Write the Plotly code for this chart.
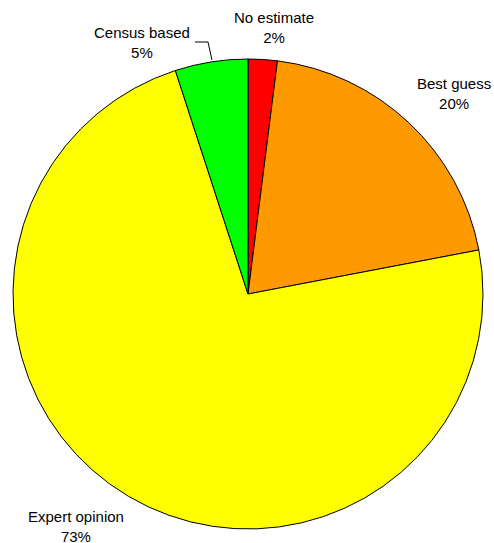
import plotly.graph_objects as go

# Share of estimates by method
categories = ["No estimate", "Best guess", "Expert opinion", "Census based"]
shares = [2, 20, 73, 5]
colors = ["#FF0000", "#FF9900", "#FFFF00", "#00FF00"]

W, H = 494, 543
FONT = dict(family="Liberation Sans, Arial, sans-serif", size=15, color="black")


def px_x(x):
    return x / W


def px_y(y):
    return 1 - y / H


fig = go.Figure(
    go.Pie(
        labels=categories,
        values=shares,
        sort=False,
        direction="clockwise",
        rotation=0,
        marker=dict(colors=colors, line=dict(color="black", width=1)),
        textinfo="none",
        hoverinfo="label+percent",
        showlegend=False,
        domain=dict(x=[px_x(13), px_x(483)], y=[px_y(529), px_y(59)]),
    )
)

# Label placement (pixel centres of each text block)
label_pos = {
    "No estimate": (274, 28),
    "Best guess": (454, 93),
    "Expert opinion": (76, 526),
    "Census based": (142, 42),
}

for name, val in zip(categories, shares):
    x, y = label_pos[name]
    fig.add_annotation(
        x=px_x(x), y=px_y(y), xref="paper", yref="paper",
        text=f"{name}<br>{val}%", showarrow=False,
        xanchor="center", yanchor="middle", align="center",
        font=FONT,
    )

# Leader line for the small "Census based" slice
pts = [(195, 42), (208, 42), (212, 60)]
path = "M " + " L ".join(f"{px_x(a)},{px_y(b)}" for a, b in pts)
fig.add_shape(type="path", path=path, xref="paper", yref="paper",
              line=dict(color="black", width=1))

fig.update_layout(
    width=W,
    height=H,
    margin=dict(l=0, r=0, t=0, b=0),
    paper_bgcolor="white",
    plot_bgcolor="white",
)

fig.write_html("out.html")
